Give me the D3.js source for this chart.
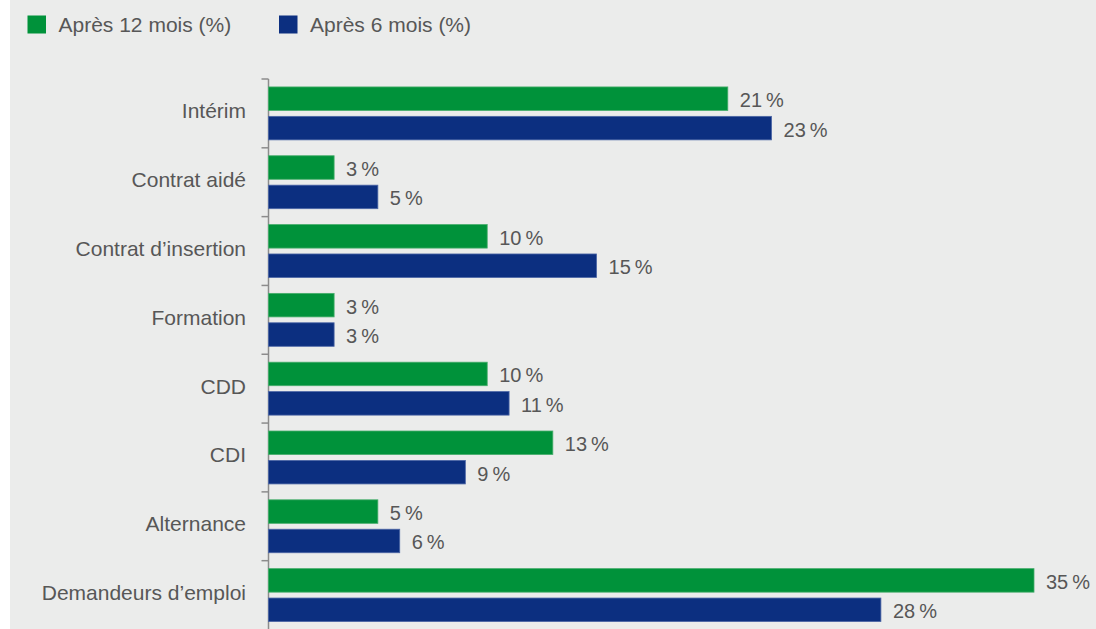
<!DOCTYPE html>
<html lang="fr">
<head>
<meta charset="utf-8">
<script src="https://cdn.jsdelivr.net/npm/d3@7"></script>
<style>
  html, body { margin: 0; padding: 0; background: #ffffff; }
  svg { display: block; }
  text { font-family: "Liberation Sans", Arial, sans-serif; fill: #575757; }
</style>
</head>
<body>
<svg id="chart" width="1096" height="629"></svg>
<script>
// Situation des sortants, par catégorie
const categories = ["Intérim", "Contrat aidé", "Contrat d\u2019insertion", "Formation", "CDD", "CDI", "Alternance", "Demandeurs d\u2019emploi"];
const seriesNames = ["Après 12 mois (%)", "Après 6 mois (%)"];
const after12 = [21, 3, 10, 3, 10, 13, 5, 35];
const after6 = [23, 5, 15, 3, 11, 9, 6, 28];
const seriesColors = ["#00923a", "#0c2f80"];
const seriesStrokes = ["#46ad6b", "#4d67a6"];

const rows = categories.map((c, i) => ({ cat: c, values: [after12[i], after6[i]] }));

const svg = d3.select("#chart");
const W = 1096, H = 629;

// panel background
svg.append("rect").attr("x", 10).attr("y", 0).attr("width", W - 10).attr("height", H).attr("fill", "#ebeceb");

const x = d3.scaleLinear().domain([0, 35]).range([268.5, 1034]);
const y = d3.scaleBand().domain(categories).range([79, 629.5]).paddingInner(0).paddingOuter(0);
const ySub = d3.scaleBand().domain([0, 1]).range([0, y.bandwidth()]).paddingInner(0.2).paddingOuter(0.27);

// category axis
const axis = d3.axisLeft(y).tickSize(0).tickFormat("");
const gAxis = svg.append("g").attr("transform", "translate(268.5,0)").call(axis);
gAxis.select(".domain").remove();
gAxis.append("line").attr("x1", 0).attr("x2", 0).attr("y1", 79).attr("y2", H)
  .attr("stroke", "#8c8c8c").attr("stroke-width", 1.5);
// boundary ticks between categories
const bounds = categories.map(c => y(c));
gAxis.selectAll(".bound").data(bounds).join("line").attr("class", "bound")
  .attr("x1", -7).attr("x2", 0).attr("y1", d => d).attr("y2", d => d)
  .attr("stroke", "#8c8c8c").attr("stroke-width", 1.5);

// category labels
svg.append("g").selectAll("text").data(categories).join("text")
  .attr("x", 246).attr("y", d => y(d) + y.bandwidth() / 2 + 5)
  .attr("text-anchor", "end").attr("font-size", 21).text(d => d);

// bars and value labels
const groups = svg.append("g").selectAll("g").data(rows).join("g")
  .attr("transform", d => `translate(0,${y(d.cat)})`);

groups.selectAll("rect").data(d => d.values.map((v, k) => ({ v, k }))).join("rect")
  .attr("x", x(0)).attr("y", d => ySub(d.k))
  .attr("width", d => x(d.v) - x(0)).attr("height", ySub.bandwidth())
  .attr("fill", d => seriesColors[d.k])
  .attr("stroke", d => seriesStrokes[d.k]).attr("stroke-width", 0.8);

groups.selectAll("text").data(d => d.values.map((v, k) => ({ v, k }))).join("text")
  .attr("x", d => x(d.v) + 12).attr("y", d => ySub(d.k) + ySub.bandwidth() / 2 + 8.5)
  .attr("font-size", 20).text(d => d.v + "\u2009%");

// legend
const legendX = [27.5, 279];
const legend = svg.append("g").selectAll("g").data(seriesNames).join("g")
  .attr("transform", (d, i) => `translate(${legendX[i]},15.5)`);
legend.append("rect").attr("width", 18.5).attr("height", 18).attr("fill", (d, i) => seriesColors[i]);
legend.append("text").attr("x", 31).attr("y", 16.5).attr("font-size", 21).text(d => d);
</script>
</body>
</html>
